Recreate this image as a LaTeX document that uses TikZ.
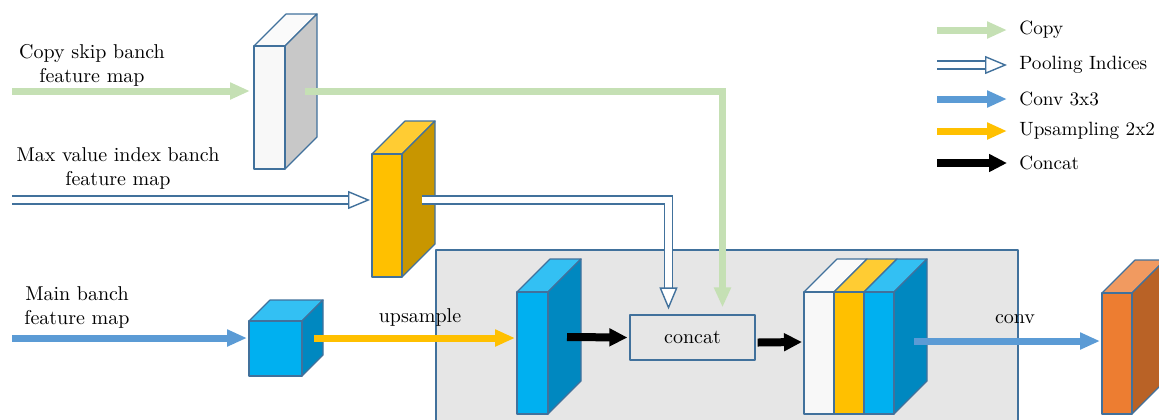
\documentclass[tikz,border=0pt]{standalone}
\usetikzlibrary{arrows.meta}
\definecolor{edgeblue}{RGB}{65,113,156}
\definecolor{copygreen}{RGB}{197,224,180}
\definecolor{convblue}{RGB}{91,155,213}
\definecolor{upyellow}{RGB}{255,192,0}
\definecolor{stagegray}{RGB}{230,230,230}
\definecolor{whitefront}{RGB}{248,248,248}
\definecolor{whitetop}{RGB}{250,250,250}
\definecolor{whiteside}{RGB}{200,200,200}
\definecolor{yellowfront}{RGB}{255,192,0}
\definecolor{yellowtop}{RGB}{255,204,51}
\definecolor{yellowside}{RGB}{200,150,0}
\definecolor{bluefront}{RGB}{0,176,240}
\definecolor{bluetop}{RGB}{51,192,243}
\definecolor{blueside}{RGB}{0,136,192}
\definecolor{orangefront}{RGB}{237,125,49}
\definecolor{orangetop}{RGB}{241,154,96}
\definecolor{orangeside}{RGB}{185,98,38}

\tikzset{
  face/.style={draw=edgeblue, line width=0.6pt, line join=round},
  flow/.style={line width=3.5pt, -{Triangle[length=10pt,width=8pt]}},
  copyflow/.style={flow, draw=copygreen},
  convflow/.style={flow, draw=convblue},
  upflow/.style={flow, draw=upyellow},
  catflow/.style={flow, draw=black, line width=4pt, -{Triangle[length=9pt,width=8.5pt]}},
  poolflow/.style={draw=edgeblue, line width=0.7pt, double=white, double distance=3.4pt,
    line join=miter, -{Triangle[open,fill=white,length=11pt,width=9pt]}},
  label/.style={align=center, inner sep=0pt},
  legendtext/.style={anchor=west, inner sep=0pt, font=\fontsize{9.6}{11}\selectfont},
  concatbox/.style={face, fill=stagegray, minimum width=62.5pt, minimum height=22.5pt}
}

% one feature map block: name, x, y of front top-left, width, height, depth, colour set
\newcommand\fmap[7]{%
  \filldraw[face, fill=#7top] (#2,#3) -- ++(#6,-#6) -- ++(#4,0) -- ++(-#6,#6) -- cycle;
  \filldraw[face, fill=#7side] (#2+#4,#3) -- ++(#6,-#6) -- ++(0,#5) -- ++(-#6,#6) -- cycle;
  \filldraw[face, fill=#7front] (#2,#3) rectangle ++(#4,#5);
  \coordinate (#1) at (#2+#4/2,#3+#5/2);
}

\begin{document}
\begin{tikzpicture}[x=0.5pt, y=-0.5pt]
\useasboundingbox (0,0) rectangle (1159,419);

% decoder stage
\filldraw[face, fill=stagegray] (436,250) rectangle (1018,440);

% feature maps
\fmap{skipmap}{254}{46}{31}{123}{32}{white}
\fmap{indexmap}{372}{154}{30}{123}{33}{yellow}
\fmap{mainmap}{249}{321}{53}{55}{21}{blue}
\fmap{upmap}{517}{292}{31}{122}{33}{blue}
\fmap{outmap}{1102}{293}{30}{121}{33}{orange}

% concatenated map
\filldraw[face, fill=whitetop] (804,292) -- (837,259) -- (867,259) -- (834,292) -- cycle;
\filldraw[face, fill=yellowtop] (834,292) -- (867,259) -- (897,259) -- (864,292) -- cycle;
\filldraw[face, fill=bluetop] (864,292) -- (897,259) -- (927,259) -- (894,292) -- cycle;
\filldraw[face, fill=blueside] (894,292) -- (927,259) -- (927,381) -- (894,414) -- cycle;
\filldraw[face, fill=whitefront] (804,292) rectangle (834,414);
\filldraw[face, fill=yellowfront] (834,292) rectangle (864,414);
\filldraw[face, fill=bluefront] (864,292) rectangle (894,414);
\coordinate (catmap) at (849,353);

\node[concatbox] (concat) at (692.5,337.5) {concat};

% branch labels
\node[label] (skiplabel) at (92,65) {Copy skip banch\\feature map};
\node[label] (indexlabel) at (118,168) {Max value index banch\\feature map};
\node[label] (mainlabel) at (77,307) {Main banch\\feature map};
\node[label] (uplabel) at (420,317) {upsample};
\node[label] (convlabel) at (1015,319) {conv};

% ports
\coordinate (skipin) at (12,91);
\coordinate (skipend) at (250,91);
\coordinate (skipout) at (305,91);
\coordinate (indexin) at (12,200);
\coordinate (indexend) at (370,200);
\coordinate (indexout) at (422,200);
\coordinate (mainin) at (12,338);
\coordinate (mainend) at (247,338);
\coordinate (mainout) at (314,338);
\coordinate (upend) at (515,338);
\coordinate (upout) at (567,337);
\coordinate (catend) at (802,342);
\coordinate (catout) at (914,341);
\coordinate (outend) at (1100,341);

% connectors
\draw[copyflow] (skipin) -- (skipend);
\draw[copyflow] (skipout) -| ([xshift=15pt,yshift=3.5pt]concat.north);
\draw[poolflow] (indexin) -- (indexend);
\draw[poolflow] (indexout) -| ([xshift=-12pt,yshift=2.5pt]concat.north);
\draw[convflow] (mainin) -- (mainend);
\draw[upflow] (mainout) -- (upend);
\draw[catflow] (upout) -- ([xshift=-1pt]concat.west);
\draw[catflow] ([xshift=1pt,yshift=-2.5pt]concat.east) -- (catend);
\draw[convflow] (catout) -- (outend);

% legend
\coordinate (lgcopya) at (937,30);
\coordinate (lgcopyb) at (1007,30);
\coordinate (lgpoola) at (937,65);
\coordinate (lgpoolb) at (1007,65);
\coordinate (lgconva) at (937,99);
\coordinate (lgconvb) at (1007,99);
\coordinate (lgupa) at (937,131);
\coordinate (lgupb) at (1007,131);
\coordinate (lgcata) at (937,163);
\coordinate (lgcatb) at (1007,163);
\draw[copyflow] (lgcopya) -- (lgcopyb);
\draw[poolflow] (lgpoola) -- (lgpoolb);
\draw[convflow] (lgconva) -- (lgconvb);
\draw[upflow] (lgupa) -- (lgupb);
\draw[catflow] (lgcata) -- (lgcatb);
\node[legendtext] (lgcopy) at (1019,30) {Copy};
\node[legendtext] (lgpool) at (1019,65) {Pooling Indices};
\node[legendtext] (lgconv) at (1019,99) {Conv 3x3};
\node[legendtext] (lgup) at (1019,131) {Upsampling 2x2};
\node[legendtext] (lgcat) at (1019,163) {Concat};
\end{tikzpicture}
\end{document}
